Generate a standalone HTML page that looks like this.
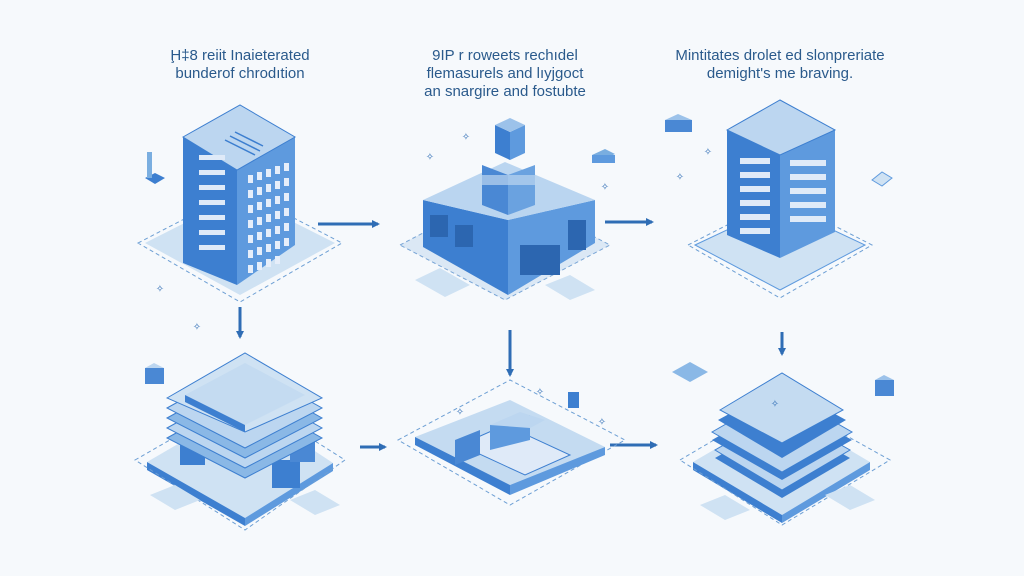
<!DOCTYPE html>
<html><head><meta charset="utf-8"><style>
html,body{margin:0;padding:0;background:#f6f9fc;}
svg{display:block}
text{font-family:"Liberation Sans",sans-serif;fill:#2a5a8c;font-size:15px;text-anchor:middle}
</style></head><body>
<svg width="1024" height="576" viewBox="0 0 1024 576">
<rect width="1024" height="576" fill="#f6f9fc"/>
<defs>
<marker id="ah" markerWidth="8" markerHeight="8" refX="6" refY="4" orient="auto" markerUnits="userSpaceOnUse"><path d="M0,0 L8,4 L0,8 Z" fill="#2f6db5"/></marker>
</defs>
<text x="240" y="60">Ḩ‡8 reiit Inaieterated</text>
<text x="240" y="78">bunderof chrodıtion</text>
<text x="505" y="60">9IP r roweets rechıdel</text>
<text x="505" y="78">flemasurels and lıyjgoct</text>
<text x="505" y="96">an snargire and fostubte</text>
<text x="780" y="60">Mintitates drolet ed slonpreriate</text>
<text x="780" y="78">demight's me braving.</text>

<g stroke="#2f6db5" stroke-width="3" marker-end="url(#ah)">
<line x1="318" y1="224" x2="378" y2="224"/>
<line x1="605" y1="222" x2="652" y2="222"/>
<line x1="360" y1="447" x2="385" y2="447"/>
<line x1="610" y1="445" x2="656" y2="445"/>
<line x1="240" y1="307" x2="240" y2="337"/>
<line x1="510" y1="330" x2="510" y2="375"/>
<line x1="782" y1="332" x2="782" y2="354"/>
</g>

<!-- Building 1 -->
<polygon points="145,243 240,195 335,243 240,295" fill="#cfe2f3"/>
<polygon points="138,243 240,190 342,243 240,302" fill="none" stroke="#6d9fd4" stroke-dasharray="4,3"/>
<polygon points="183,137 237,170 237,285 183,263" fill="#3d7fd0"/>
<polygon points="237,170 295,137 295,245 237,285" fill="#5e9ade"/>
<polygon points="183,137 240,105 295,137 237,170" fill="#bcd6f0" stroke="#3d7fd0"/>
<g stroke="#3d7fd0" stroke-width="1.5"><line x1="225" y1="140" x2="255" y2="155"/><line x1="230" y1="136" x2="260" y2="151"/><line x1="235" y1="132" x2="263" y2="146"/></g>
<g fill="#dfeaf8">
<rect x="199" y="155" width="26" height="5"/><rect x="199" y="170" width="26" height="5"/><rect x="199" y="185" width="26" height="5"/><rect x="199" y="200" width="26" height="5"/><rect x="199" y="215" width="26" height="5"/><rect x="199" y="230" width="26" height="5"/><rect x="199" y="245" width="26" height="5"/>
</g>
<g fill="#e6eefa">
<rect x="248" y="175" width="5" height="8"/><rect x="257" y="172" width="5" height="8"/><rect x="266" y="169" width="5" height="8"/><rect x="275" y="166" width="5" height="8"/><rect x="284" y="163" width="5" height="8"/>
<rect x="248" y="190" width="5" height="8"/><rect x="257" y="187" width="5" height="8"/><rect x="266" y="184" width="5" height="8"/><rect x="275" y="181" width="5" height="8"/><rect x="284" y="178" width="5" height="8"/>
<rect x="248" y="205" width="5" height="8"/><rect x="257" y="202" width="5" height="8"/><rect x="266" y="199" width="5" height="8"/><rect x="275" y="196" width="5" height="8"/><rect x="284" y="193" width="5" height="8"/>
<rect x="248" y="220" width="5" height="8"/><rect x="257" y="217" width="5" height="8"/><rect x="266" y="214" width="5" height="8"/><rect x="275" y="211" width="5" height="8"/><rect x="284" y="208" width="5" height="8"/>
<rect x="248" y="235" width="5" height="8"/><rect x="257" y="232" width="5" height="8"/><rect x="266" y="229" width="5" height="8"/><rect x="275" y="226" width="5" height="8"/><rect x="284" y="223" width="5" height="8"/>
<rect x="248" y="250" width="5" height="8"/><rect x="257" y="247" width="5" height="8"/><rect x="266" y="244" width="5" height="8"/><rect x="275" y="241" width="5" height="8"/><rect x="284" y="238" width="5" height="8"/>
<rect x="248" y="265" width="5" height="8"/><rect x="257" y="262" width="5" height="8"/><rect x="266" y="259" width="5" height="8"/><rect x="275" y="256" width="5" height="8"/>
</g>
<polygon points="145,178 155,173 165,178 155,184" fill="#3d7fd0"/>
<rect x="147" y="152" width="5" height="26" fill="#7aaee0"/>

<!-- Building 2 -->
<polygon points="400,245 505,190 610,245 505,300" fill="#dbe8f5" stroke="#7aa6d6" stroke-dasharray="4,3"/>
<polygon points="415,280 440,268 470,285 445,297" fill="#cfe2f3"/>
<polygon points="545,285 570,275 595,290 570,300" fill="#cfe2f3"/>
<polygon points="423,200 508,220 508,295 423,247" fill="#3d7fd0"/>
<polygon points="508,220 595,200 595,243 508,295" fill="#5e9ade"/>
<polygon points="423,200 505,162 595,200 508,220" fill="#bad5f0"/>
<g fill="#2c66b0"><rect x="430" y="215" width="18" height="22"/><rect x="455" y="225" width="18" height="22"/><rect x="520" y="245" width="40" height="30"/><rect x="568" y="220" width="18" height="30"/></g>
<polygon points="482,165 508,175 508,215 482,205" fill="#4a88d4"/>
<polygon points="508,175 535,165 535,205 508,215" fill="#6aa2e0"/>
<rect x="480" y="175" width="56" height="10" fill="#bcd6f0" opacity="0.7"/>
<polygon points="495,125 510,132 510,160 495,153" fill="#3d7fd0"/>
<polygon points="510,132 525,125 525,153 510,160" fill="#5e9ade"/>
<polygon points="495,125 510,118 525,125 510,132" fill="#9cc2ea"/>
<polygon points="592,155 605,149 615,154 602,160" fill="#7aaee0"/><rect x="592" y="155" width="23" height="8" fill="#5e9ade"/>

<!-- Building 3 -->
<polygon points="695,245 780,205 865,245 780,290" fill="#cfe2f3" stroke="#5e9ade"/>
<polygon points="688,245 780,198 872,245 780,298" fill="none" stroke="#6d9fd4" stroke-dasharray="4,3"/>
<polygon points="727,130 780,155 780,258 727,235" fill="#3d7fd0"/>
<polygon points="780,155 835,130 835,232 780,258" fill="#5e9ade"/>
<polygon points="727,130 780,100 835,130 780,155" fill="#bcd6f0" stroke="#3d7fd0"/>
<g fill="#dfeaf8">
<rect x="740" y="158" width="30" height="6"/><rect x="740" y="172" width="30" height="6"/><rect x="740" y="186" width="30" height="6"/><rect x="740" y="200" width="30" height="6"/><rect x="740" y="214" width="30" height="6"/><rect x="740" y="228" width="30" height="6"/>
<rect x="790" y="160" width="36" height="6"/><rect x="790" y="174" width="36" height="6"/><rect x="790" y="188" width="36" height="6"/><rect x="790" y="202" width="36" height="6"/><rect x="790" y="216" width="36" height="6"/>
</g>
<polygon points="665,120 678,114 692,120 679,127" fill="#9cc2ea"/><rect x="665" y="120" width="27" height="12" fill="#4a88d4"/>
<polygon points="872,180 882,172 892,178 882,186" fill="#cfe2f3" stroke="#5e9ade"/>

<!-- Bottom-left stack -->
<polygon points="147,462 245,405 333,463 245,518" fill="#cfe2f3"/>
<polygon points="147,462 245,518 245,526 147,470" fill="#3d7fd0"/>
<polygon points="245,518 333,463 333,471 245,526" fill="#5e9ade"/>
<polygon points="135,460 245,397 345,460 245,530" fill="none" stroke="#6d9fd4" stroke-dasharray="4,3"/>
<polygon points="150,495 175,485 200,500 175,510" fill="#cfe2f3"/>
<polygon points="290,500 315,490 340,505 315,515" fill="#cfe2f3"/>
<rect x="180" y="440" width="25" height="25" fill="#3d7fd0"/>
<rect x="272" y="460" width="28" height="28" fill="#3d7fd0"/>
<rect x="290" y="440" width="25" height="22" fill="#4a88d4"/>
<polygon points="167,438 245,395 322,438 245,478" fill="#8ab8e6" stroke="#3d7fd0"/>
<polygon points="167,428 245,385 322,428 245,468" fill="#bcd6f0" stroke="#3d7fd0"/>
<polygon points="167,418 245,375 322,418 245,458" fill="#8ab8e6" stroke="#3d7fd0"/>
<polygon points="167,408 245,365 322,408 245,448" fill="#bcd6f0" stroke="#3d7fd0"/>
<polygon points="167,398 245,353 322,398 245,432" fill="#cfe2f3" stroke="#3d7fd0"/>
<polygon points="185,395 245,363 305,395 245,425" fill="#c4dbf1"/>
<polygon points="185,395 245,425 245,432 185,402" fill="#3d7fd0"/>
<polygon points="145,368 154,363 164,368 155,373" fill="#bcd6f0"/><rect x="145" y="368" width="19" height="16" fill="#4a88d4"/>

<!-- Bottom-middle -->
<polygon points="398,440 510,380 625,440 510,505" fill="none" stroke="#6d9fd4" stroke-dasharray="4,3"/>
<polygon points="415,437 510,400 605,447 510,485" fill="#c4dbf1"/>
<polygon points="415,437 510,485 510,495 415,445" fill="#3d7fd0"/>
<polygon points="510,485 605,447 605,455 510,495" fill="#5e9ade"/>
<polygon points="460,445 505,425 570,455 525,475" fill="#dfeaf8" stroke="#3d7fd0"/>
<polygon points="455,440 480,430 480,455 455,465" fill="#4a88d4"/>
<polygon points="490,425 530,415 530,440 490,450" fill="#5e9ade"/>
<polygon points="490,425 520,412 545,420 530,428" fill="#bcd6f0"/>
<rect x="568" y="392" width="11" height="16" fill="#3d7fd0"/>

<!-- Bottom-right stack -->
<polygon points="693,462 782,410 870,462 782,515" fill="#cfe2f3"/>
<polygon points="693,462 782,515 782,523 693,470" fill="#3d7fd0"/>
<polygon points="782,515 870,462 870,470 782,523" fill="#5e9ade"/>
<polygon points="680,460 782,400 890,460 782,525" fill="none" stroke="#6d9fd4" stroke-dasharray="4,3"/>
<polygon points="700,505 725,495 750,510 725,520" fill="#cfe2f3"/>
<polygon points="825,495 850,485 875,500 850,510" fill="#cfe2f3"/>
<polygon points="715,458 782,420 850,458 782,498" fill="#3d7fd0"/>
<polygon points="715,450 782,412 850,450 782,490" fill="#bcd6f0" stroke="#3d7fd0"/>
<polygon points="712,440 782,400 852,440 782,480" fill="#3d7fd0"/>
<polygon points="712,432 782,392 852,432 782,472" fill="#bcd6f0" stroke="#3d7fd0"/>
<polygon points="718,420 782,385 846,420 782,458" fill="#3d7fd0"/>
<polygon points="720,410 782,373 843,410 782,443" fill="#c4dbf1" stroke="#3d7fd0"/>
<polygon points="672,372 690,362 708,372 690,382" fill="#8ab8e6"/>
<polygon points="875,380 884,375 894,380 885,385" fill="#9cc2ea"/><rect x="875" y="380" width="19" height="16" fill="#4a88d4"/>

<g style="font-size:10px">
<text x="160" y="292" style="fill:#2f6db5;font-size:10px">✧</text>
<text x="197" y="330" style="fill:#2f6db5;font-size:10px">✧</text>
<text x="430" y="160" style="fill:#2f6db5;font-size:10px">✧</text>
<text x="466" y="140" style="fill:#2f6db5;font-size:10px">✧</text>
<text x="605" y="190" style="fill:#2f6db5;font-size:10px">✧</text>
<text x="680" y="180" style="fill:#2f6db5;font-size:10px">✧</text>
<text x="708" y="155" style="fill:#2f6db5;font-size:10px">✧</text>
<text x="460" y="415" style="fill:#2f6db5;font-size:10px">✧</text>
<text x="540" y="395" style="fill:#2f6db5;font-size:10px">✧</text>
<text x="602" y="425" style="fill:#2f6db5;font-size:10px">✧</text>
<text x="775" y="407" style="fill:#2f6db5;font-size:10px">✧</text>
</g>
</svg>
</body></html>
